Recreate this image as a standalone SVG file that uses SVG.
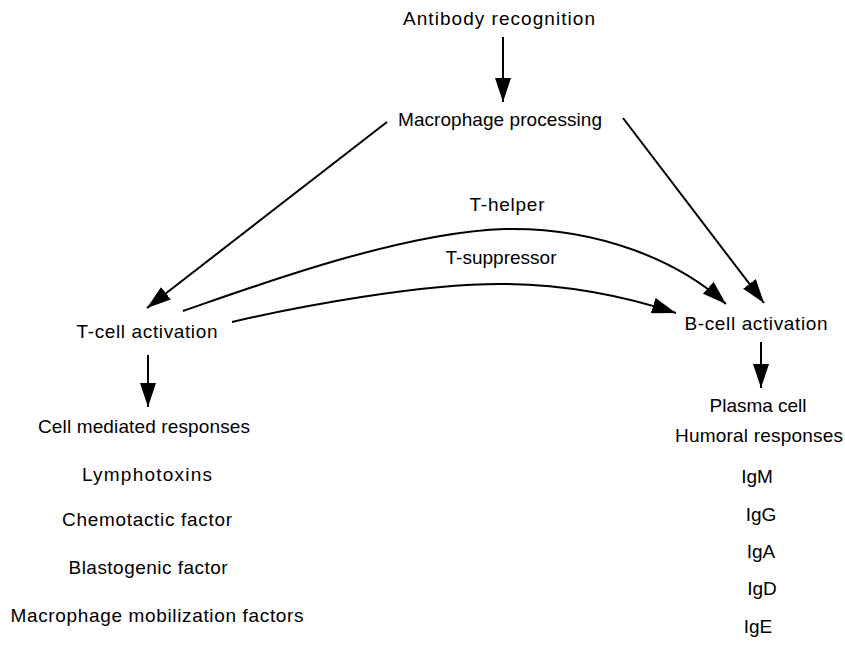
<svg xmlns="http://www.w3.org/2000/svg" width="845" height="670" viewBox="0 0 845 670">
<style>
  text { font-family: "Liberation Sans", Arial, sans-serif; font-size: 19px; fill: #000; text-anchor: middle; }
  .c { fill: none; stroke: #000; stroke-width: 2; }
</style>
<defs>
  <marker id="ah" markerUnits="userSpaceOnUse" markerWidth="24" markerHeight="16" refX="24" refY="8" orient="auto">
    <path d="M0,0 L24,8 L0,16 z" fill="#000"/>
  </marker>
</defs>
<rect width="845" height="670" fill="#fff"/>
<g id="connectors">
  <line class="c" x1="503" y1="37" x2="503" y2="102" marker-end="url(#ah)"/>
  <line class="c" x1="387" y1="122" x2="147" y2="308" marker-end="url(#ah)"/>
  <line class="c" x1="623" y1="118" x2="764" y2="303" marker-end="url(#ah)"/>
  <path class="c" d="M183,311 C250,288 400,232 505,229 C600,227 680,262 726,304" marker-end="url(#ah)"/>
  <path class="c" d="M232,322 C300,306 420,284 500,284 C570,284 630,298 676,313" marker-end="url(#ah)"/>
  <line class="c" x1="148" y1="355" x2="148" y2="407" marker-end="url(#ah)"/>
  <line class="c" x1="761" y1="342" x2="761" y2="388" marker-end="url(#ah)"/>
</g>
<g id="antibody"><text x="499" y="25" textLength="192" lengthAdjust="spacing">Antibody recognition</text></g>
<g id="macrophage"><text x="500" y="126" textLength="204" lengthAdjust="spacing">Macrophage processing</text></g>
<g id="thelper"><text x="507" y="211" textLength="75" lengthAdjust="spacing">T-helper</text></g>
<g id="tsuppressor"><text x="501" y="264" textLength="111" lengthAdjust="spacing">T-suppressor</text></g>
<g id="tcell"><text x="147" y="338" textLength="141" lengthAdjust="spacing">T-cell activation</text></g>
<g id="bcell"><text x="756" y="330" textLength="143" lengthAdjust="spacing">B-cell activation</text></g>
<g id="cellmediated">
  <text x="144" y="433" textLength="212" lengthAdjust="spacing">Cell mediated responses</text>
  <text x="147" y="481" textLength="130" lengthAdjust="spacing">Lymphotoxins</text>
  <text x="147" y="526" textLength="170" lengthAdjust="spacing">Chemotactic factor</text>
  <text x="148" y="574" textLength="159" lengthAdjust="spacing">Blastogenic factor</text>
  <text x="157" y="622" textLength="293" lengthAdjust="spacing">Macrophage mobilization factors</text>
</g>
<g id="humoral">
  <text x="758" y="412" textLength="97" lengthAdjust="spacing">Plasma cell</text>
  <text x="759" y="442" textLength="168" lengthAdjust="spacing">Humoral responses</text>
  <text x="757" y="483">IgM</text>
  <text x="761" y="521">IgG</text>
  <text x="761" y="558">IgA</text>
  <text x="762" y="595">IgD</text>
  <text x="758" y="633">IgE</text>
</g>
</svg>
